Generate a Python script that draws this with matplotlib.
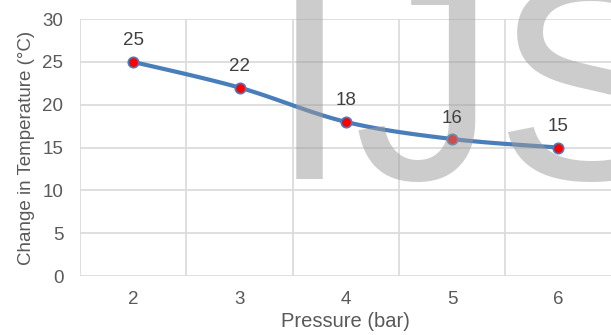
import numpy as np
import matplotlib
matplotlib.use("Agg")
import matplotlib.pyplot as plt
from matplotlib.ticker import FixedLocator

plt.rcParams['font.family'] = ['Liberation Sans', 'DejaVu Sans']

pressure = [2, 3, 4, 5, 6]
temp_change = [25, 22, 18, 16, 15]
y_ticks = [0, 5, 10, 15, 20, 25, 30]

TEXT = '#595959'
GRID = '#d9d9d9'
LINE = '#4a7ebb'


def smooth_curve(x, y, n=30):
    """Catmull-Rom style smoothing through the data points."""
    x = np.asarray(x, float)
    y = np.asarray(y, float)
    px = np.concatenate([[x[0]], x, [x[-1]]])
    py = np.concatenate([[y[0]], y, [y[-1]]])
    xs, ys = [], []
    for i in range(1, len(px) - 2):
        p0, p1, p2, p3 = (np.array([px[j], py[j]]) for j in range(i - 1, i + 3))
        c1 = p1 + (p2 - p0) / 6
        c2 = p2 - (p3 - p1) / 6
        t = np.linspace(0, 1, n)[:, None]
        b = ((1 - t) ** 3) * p1 + 3 * ((1 - t) ** 2) * t * c1 + 3 * (1 - t) * t ** 2 * c2 + t ** 3 * p2
        xs.append(b[:, 0])
        ys.append(b[:, 1])
    return np.concatenate(xs), np.concatenate(ys)


fig = plt.figure(figsize=(6.11, 3.35), dpi=100)
ax = fig.add_axes([0.131, 0.176, 0.870, 0.767])

ax.set_xlim(1.5, 6.5)
ax.set_ylim(0, 30)
ax.set_yticks(y_ticks)
ax.set_xticks(pressure)
ax.xaxis.set_minor_locator(FixedLocator(np.arange(1.5, 6.6, 1.0)))
ax.grid(True, axis='y', which='major', color=GRID, lw=1.2)
ax.grid(True, axis='x', which='minor', color=GRID, lw=1.2)
ax.grid(False, axis='x', which='major')
ax.tick_params(which='both', length=0)
ax.tick_params(axis='y', pad=12, labelsize=13.5, labelcolor=TEXT)
ax.tick_params(axis='x', pad=11, labelsize=13.5, labelcolor=TEXT)
for s in ax.spines.values():
    s.set_visible(False)
ax.set_axisbelow(True)

sx, sy = smooth_curve(pressure, temp_change)
ax.plot(sx, sy, color=LINE, lw=3, solid_capstyle='round', zorder=3)
ax.plot(pressure, temp_change, 'o', ms=7.5, mfc='#ff0000', mec=LINE, mew=1.2, zorder=4)

# watermark letters
for letter, px_left in [('I', 269.5), ('J', 354), ('S', 494)]:
    ax.text(px_left / 611, 1 - 179 / 335, letter, transform=fig.transFigure, clip_on=False,
            fontsize=205, color='#9a9a9a', alpha=0.5,
            ha='left', va='baseline', zorder=5, family='Liberation Sans')

for x, y in zip(pressure, temp_change):
    ax.annotate(str(y), (x, y), xytext=(0, 9), textcoords='offset points',
                ha='center', va='bottom', fontsize=13.5, color='#404040', zorder=6)

ax.set_xlabel('Pressure (bar)', fontsize=14.5, color=TEXT, labelpad=3)
ax.set_ylabel('Change in Temperature (°C)', fontsize=13.5, color=TEXT, labelpad=5)

fig.savefig('out.png', dpi=100)
